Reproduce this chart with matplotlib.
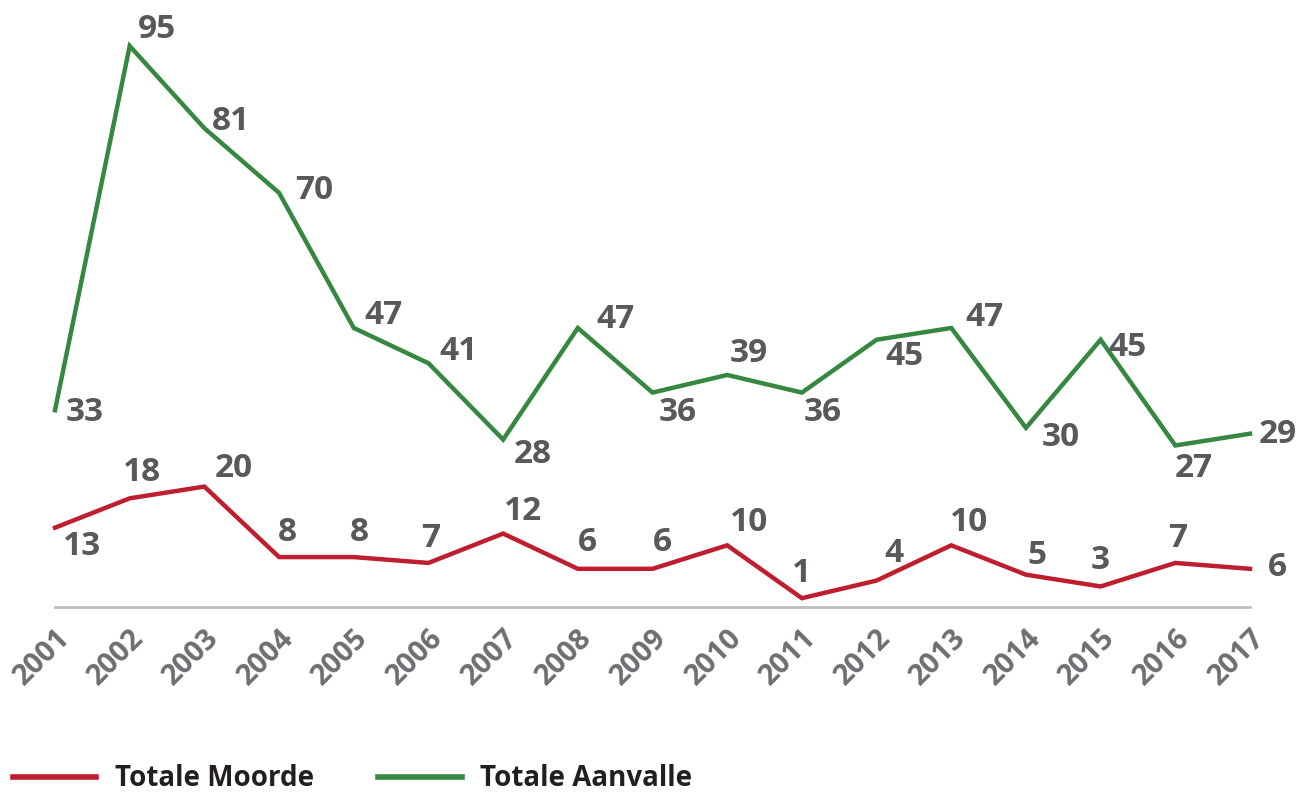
import matplotlib
matplotlib.use("Agg")
import matplotlib.pyplot as plt

# data
years = list(range(2001, 2018))
aanvalle = [33, 95, 81, 70, 47, 41, 28, 47, 36, 39, 36, 45, 47, 30, 45, 27, 29]
moorde = [13, 18, 20, 8, 8, 7, 12, 6, 6, 10, 1, 4, 10, 5, 3, 7, 6]

# label offsets in pixels (dx right, dy down) relative to each point
aanvalle_off = [(30, 2), (27, -16), (27, -7), (35, -2), (30, -12), (30, -12),
                (30, 15), (38, -8), (25, 20), (22, -21), (21, 20), (28, 17),
                (33, -10), (35, 10), (27, 8), (18, 23), (28, 1)]
moorde_off = [(27, 19), (12, -26), (29, -18), (8, -25), (6, -25), (2, -24),
              (20, -22), (10, -26), (10, -26), (22, -23), (0, -25), (17, -27),
              (18, -23), (11, -19), (0, -26), (2, -24), (27, -1)]

RED = "#be1e2d"
GREEN = "#36873f"
LABEL = "#58595b"
TICK = "#6d6e71"

plt.rcParams["font.family"] = ["Open Sans", "DejaVu Sans"]

W, H = 1298, 794
fig = plt.figure(figsize=(W / 100, H / 100), dpi=100)
ax = fig.add_axes([55 / W, 1 - 607 / H, (1250 - 55) / W, (607 - 46) / H])

ax.plot(years, moorde, color=RED, lw=3.2, solid_joinstyle="miter", label="Totale Moorde", clip_on=False)
ax.plot(years, aanvalle, color=GREEN, lw=3.2, solid_joinstyle="miter", label="Totale Aanvalle", clip_on=False)

for x, y, (dx, dy) in zip(years, aanvalle, aanvalle_off):
    ax.annotate(str(y), (x, y), xytext=(dx * 0.72, -dy * 0.72), textcoords="offset points",
                ha="center", va="center", fontsize=24, fontweight="bold", color=LABEL)
for x, y, (dx, dy) in zip(years, moorde, moorde_off):
    ax.annotate(str(y), (x, y), xytext=(dx * 0.72, -dy * 0.72), textcoords="offset points",
                ha="center", va="center", fontsize=24, fontweight="bold", color=LABEL)

ax.set_xlim(2001, 2017)
ax.set_ylim(-0.5, 95)
ax.set_yticks([])
for s in ["top", "right", "left"]:
    ax.spines[s].set_visible(False)
ax.spines["bottom"].set_color("#bfbfbf")
ax.spines["bottom"].set_linewidth(2)

ax.set_xticks(years)
ax.set_xticklabels([str(y) for y in years], rotation=45, ha="right", va="top",
                   rotation_mode="anchor", fontsize=21, fontweight="bold", color=TICK)
ax.tick_params(axis="x", length=0, pad=12)

fig.legend(loc="center left", bbox_to_anchor=(13 / W, 1 - 779 / H), ncol=2, frameon=False,
           borderpad=0, borderaxespad=0, handlelength=3.0, handletextpad=0.68, columnspacing=2.3,
           prop={"size": 20, "weight": "bold"}, labelcolor="#231f20")
for line in fig.legends[0].get_lines():
    line.set_linewidth(4)

fig.savefig("out.png", dpi=100)
